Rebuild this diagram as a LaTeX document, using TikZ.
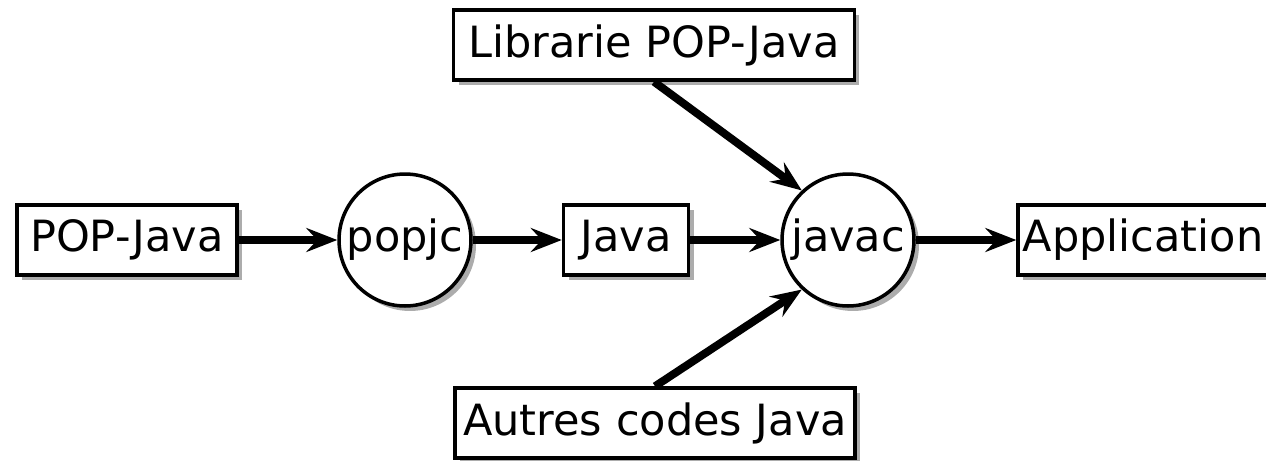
\documentclass[tikz,border=0pt]{standalone}
\usepackage{fontspec}
\setmainfont{DejaVu Sans}
\usetikzlibrary{arrows.meta,shadows}

\begin{document}
\begin{tikzpicture}[x=0.02cm, y=-0.02cm,
        box/.style={draw, line width=2pt, fill=white, inner sep=0pt,
            minimum height=1.4cm, font=\fontsize{24.5}{28}\selectfont,
            drop shadow={shadow xshift=0.1cm, shadow yshift=-0.1cm, fill=black!65}},
        proc/.style={circle, draw, line width=2pt, fill=white, inner sep=0pt,
            minimum size=2.64cm, font=\fontsize{24.5}{28}\selectfont,
            drop shadow={shadow xshift=0.1cm, shadow yshift=-0.1cm, fill=black!65}},
        flow/.style={line width=4.5pt,
            -{Stealth[length=0.62cm, width=0.48cm, inset=0.22cm]}}]
        \useasboundingbox (0,0) rectangle (1266,460);
        \clip (0,0) rectangle (1266,460);

        \node[box, minimum width=4.4cm] (popjava) at (127,240) {POP-Java};
        \node[proc] (popjc) at (405,240) {popjc};
        \node[box, minimum width=2.5cm] (java) at (626,240) {Java};
        \node[proc] (javac) at (848,240) {javac};
        \node[box, minimum width=5cm] (appli) at (1143,240) {Application};
        \node[box, minimum width=8.02cm] (lib) at (654,45) {Librarie POP-Java};
        \node[box, minimum width=8cm] (autres) at (655,423) {Autres codes Java};

        \draw[flow] (popjava) -- (popjc);
        \draw[flow] (popjc) -- (java);
        \draw[flow] (java) -- (javac);
        \draw[flow] (javac) -- (appli);
        \draw[flow] (lib.south) -- (javac.133);
        \draw[flow] (autres.north) -- (javac.227);
\end{tikzpicture}
\end{document}
